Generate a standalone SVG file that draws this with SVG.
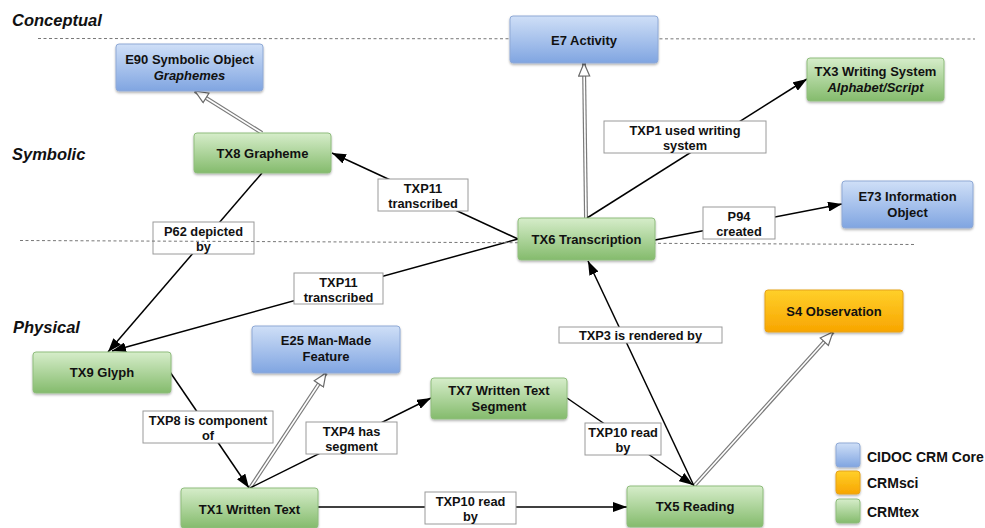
<svg xmlns="http://www.w3.org/2000/svg" width="985" height="528" viewBox="0 0 985 528">
<style>
text{font-family:"Liberation Sans",Arial,sans-serif;font-weight:bold;fill:#111;}
.n{font-size:13px;text-anchor:middle;}
.it{font-style:italic;}
.sec{font-size:16.5px;font-style:italic;}
.lg{font-size:14px;}
.lb{fill:#fff;stroke:#9a9a9a;stroke-width:1;}
.lt{font-size:12.8px;text-anchor:middle;}
.sol{fill:none;stroke:#000;stroke-width:1.5;marker-end:url(#arr);}
.dbo{fill:none;stroke:#7a7a7a;stroke-width:4;}
.dbi{fill:none;stroke:#fff;stroke-width:1.6;marker-end:url(#tri);}
.dash{stroke:#777;stroke-width:1;stroke-dasharray:3 2.5;fill:none;}
.blue{fill:url(#gb);stroke:#8fa9d6;stroke-width:1;filter:url(#sh);}
.green{fill:url(#gg);stroke:#8fbd7c;stroke-width:1;filter:url(#sh);}
.orange{fill:url(#go);stroke:#e6a21a;stroke-width:1;filter:url(#sh);}
</style>
<defs>
<linearGradient id="gb" x1="0" y1="0" x2="0" y2="1"><stop offset="0" stop-color="#cfdff7"/><stop offset="1" stop-color="#80a5e1"/></linearGradient>
<linearGradient id="gg" x1="0" y1="0" x2="0" y2="1"><stop offset="0" stop-color="#d6edca"/><stop offset="1" stop-color="#84bb6c"/></linearGradient>
<linearGradient id="go" x1="0" y1="0" x2="0" y2="1"><stop offset="0" stop-color="#ffd02a"/><stop offset="1" stop-color="#f8a500"/></linearGradient>
<filter id="sh" x="-10%" y="-10%" width="120%" height="130%"><feDropShadow dx="0" dy="1.5" stdDeviation="1.2" flood-color="#000" flood-opacity="0.3"/></filter>
<marker id="arr" viewBox="0 0 14 10" refX="14" refY="5" markerWidth="14" markerHeight="10" orient="auto" markerUnits="userSpaceOnUse"><path d="M0,0 L14,5 L0,10 z" fill="#000"/></marker>
<marker id="tri" viewBox="0 0 15 13" refX="14" refY="6.5" markerWidth="15" markerHeight="13" orient="auto" markerUnits="userSpaceOnUse"><path d="M1,1 L14,6.5 L1,12 z" fill="#fff" stroke="#6a6a6a" stroke-width="1.2"/></marker>
</defs>
<rect width="985" height="528" fill="#fff"/>

<g id="connectors">
<path class="dbo" d="M262,133 L195,91"/><path class="dbi" d="M262,133 L195,91"/>
<path class="dbo" d="M586,218 L584,63"/><path class="dbi" d="M586,218 L584,63"/>
<path class="dbo" d="M694,486 L833,332"/><path class="dbi" d="M694,486 L833,332"/>
<path class="dbo" d="M250,488 L326,373"/><path class="dbi" d="M250,488 L326,373"/>
<path class="sol" d="M587,218 L807,79"/>
<path class="sol" d="M518,239 L332,153"/>
<path class="sol" d="M518,239 L112,351"/>
<path class="sol" d="M262,173 L108,352"/>
<path class="sol" d="M655,240 L842,204"/>
<path class="sol" d="M694,486 L588,261"/>
<path class="sol" d="M170,372 L249,488"/>
<path class="sol" d="M250,488 L431,398"/>
<path class="sol" d="M567,398 L693,485"/>
<path class="sol" d="M318,507 L627,507"/>

<g id="lbl-txp1"><rect class="lb" x="604" y="121" width="162" height="32"/><text class="lt" x="685" y="135">TXP1 used writing</text><text class="lt" x="685" y="150">system</text></g>
<g id="lbl-txp11a"><rect class="lb" x="378" y="179" width="90" height="32"/><text class="lt" x="423" y="193">TXP11</text><text class="lt" x="423" y="208">transcribed</text></g>
<g id="lbl-p94"><rect class="lb" x="703" y="207" width="72" height="32"/><text class="lt" x="739" y="221">P94</text><text class="lt" x="739" y="236">created</text></g>
<g id="lbl-p62"><rect class="lb" x="153" y="222" width="101" height="32"/><text class="lt" x="203.5" y="236">P62 depicted</text><text class="lt" x="203.5" y="251">by</text></g>
<g id="lbl-txp11b"><rect class="lb" x="294" y="273" width="89" height="31"/><text class="lt" x="338.5" y="287">TXP11</text><text class="lt" x="338.5" y="302">transcribed</text></g>
<g id="lbl-txp3"><rect class="lb" x="559" y="327" width="163" height="16"/><text class="lt" x="640.5" y="340">TXP3 is rendered by</text></g>
<g id="lbl-txp8"><rect class="lb" x="143" y="411" width="130" height="32"/><text class="lt" x="208" y="425">TXP8 is component</text><text class="lt" x="208" y="440">of</text></g>
<g id="lbl-txp4"><rect class="lb" x="306" y="422" width="91" height="32"/><text class="lt" x="351.5" y="436">TXP4 has</text><text class="lt" x="351.5" y="451">segment</text></g>
<g id="lbl-txp10a"><rect class="lb" x="585" y="423" width="76" height="32"/><text class="lt" x="623" y="437">TXP10 read</text><text class="lt" x="623" y="452">by</text></g>
<g id="lbl-txp10b"><rect class="lb" x="425" y="492" width="91" height="32"/><text class="lt" x="470.5" y="506">TXP10 read</text><text class="lt" x="470.5" y="521">by</text></g>
</g>

<g id="layers">
<path class="dash" d="M38,38.5 L975,39"/>
<path class="dash" d="M20,240.5 L915,244.5"/>
<text class="sec" x="12" y="26">Conceptual</text>
<text class="sec" x="12" y="160">Symbolic</text>
<text class="sec" x="13" y="333">Physical</text>
</g>

<g id="E90"><rect class="blue" x="116" y="44" width="147" height="47" rx="3"/><text class="n" x="189.5" y="64">E90 Symbolic Object</text><text class="n it" x="189.5" y="80">Graphemes</text></g>
<g id="E7"><rect class="blue" x="510" y="16" width="148" height="47" rx="3"/><text class="n" x="584" y="45">E7 Activity</text></g>
<g id="TX3"><rect class="green" x="807" y="58" width="137" height="43" rx="3"/><text class="n" x="875.5" y="76">TX3 Writing System</text><text class="n it" x="875.5" y="92">Alphabet/Script</text></g>
<g id="TX8"><rect class="green" x="194" y="133" width="137" height="40" rx="3"/><text class="n" x="262.5" y="158">TX8 Grapheme</text></g>
<g id="E73"><rect class="blue" x="842" y="181" width="131" height="47" rx="3"/><text class="n" x="907.5" y="201">E73 Information</text><text class="n" x="907.5" y="217">Object</text></g>
<g id="TX6"><rect class="green" x="518" y="218" width="137" height="42" rx="3"/><text class="n" x="586.5" y="244">TX6 Transcription</text></g>
<g id="S4"><rect class="orange" x="765" y="290" width="138" height="42" rx="3"/><text class="n" x="834" y="316">S4 Observation</text></g>
<g id="E25"><rect class="blue" x="252" y="326" width="148" height="47" rx="3"/><text class="n" x="326" y="345">E25 Man-Made</text><text class="n" x="326" y="361">Feature</text></g>
<g id="TX9"><rect class="green" x="33" y="352" width="138" height="41" rx="3"/><text class="n" x="102" y="377">TX9 Glyph</text></g>
<g id="TX7"><rect class="green" x="431" y="378" width="136" height="41" rx="3"/><text class="n" x="499" y="395">TX7 Written Text</text><text class="n" x="499" y="411">Segment</text></g>
<g id="TX1"><rect class="green" x="181" y="488" width="137" height="40" rx="3"/><text class="n" x="249.5" y="514">TX1 Written Text</text></g>
<g id="TX5"><rect class="green" x="627" y="486" width="136" height="41" rx="3"/><text class="n" x="695" y="511">TX5 Reading</text></g>

<g id="legend">
<rect class="blue" x="836" y="443" width="24" height="24" rx="3"/><text class="lg" x="867" y="462">CIDOC CRM Core</text>
<rect class="orange" x="836" y="471" width="24" height="23" rx="3"/><text class="lg" x="867" y="488">CRMsci</text>
<rect class="green" x="836" y="499" width="24" height="24" rx="3"/><text class="lg" x="867" y="517">CRMtex</text>
</g>
</svg>
